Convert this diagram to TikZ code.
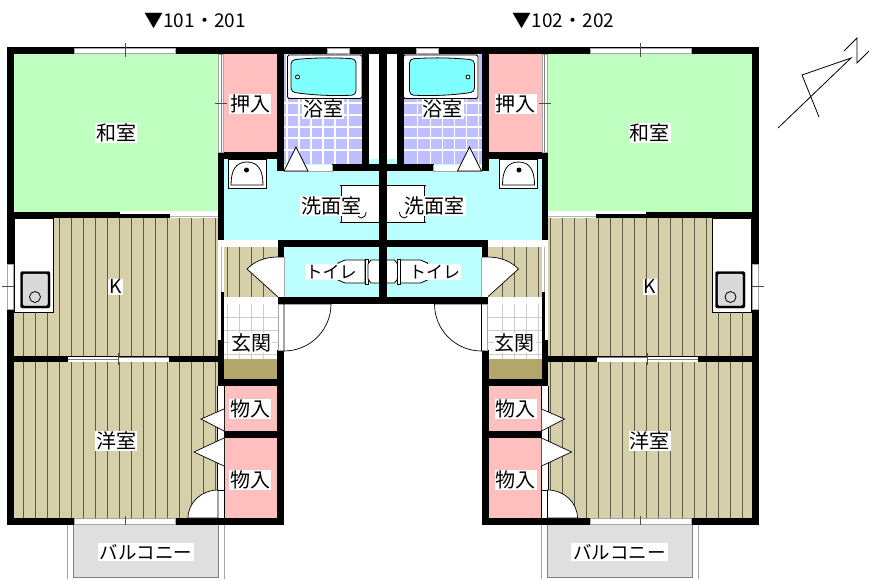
\documentclass[tikz,border=0pt]{standalone}
\usepackage{fontspec}
\setmainfont{Noto Sans CJK JP}
\usetikzlibrary{positioning}
\definecolor{tatami}{HTML}{BFFFBF}
\definecolor{closet}{HTML}{FFBFBF}
\definecolor{wet}{HTML}{BBFFFF}
\definecolor{floorb}{HTML}{D5D0AA}
\definecolor{stripe}{HTML}{5E5B46}
\definecolor{doma}{HTML}{B3A66B}
\definecolor{tile}{HTML}{BFBFFF}
\definecolor{tub}{HTML}{80FFFF}
\tikzset {
    x=1pt, y=-1pt,
    wall/.style={fill=black},
    thin line/.style={black, line width=0.8pt},
    door/.style={fill=white, draw=black, line width=0.7pt},
    opening/.style={fill=white, draw=gray!70, line width=0.7pt},
    tick/.style={black!70, line width=0.8pt},
    room/.style={fill=white, inner sep=1pt, yshift=-1pt, font=\fontsize{20}{20}\selectfont},
    every node/.style={text=black}
}
% one dwelling, the second one is the same thing mirrored
\newcommand{\halfplan}{
    % floors
    \fill[tatami] (14,54) rectangle (218,212);
    \fill[closet] (224,54) rectangle (277,152);
    \fill[floorb] (14,218) rectangle (218,356);
    \fill[floorb] (14,362) rectangle (218,518);
    \fill[floorb] (224,247) rectangle (278,297);
    \fill[white] (224,297) rectangle (278,359);
    \fill[doma] (224,359) rectangle (278,379);
    \fill[closet] (224,386) rectangle (277,431);
    \fill[closet] (224,438) rectangle (277,518);
    \fill[wet] (224,159) rectangle (379,240);
    \fill[wet] (284,247) rectangle (379,297);
    \fill[tile] (284,54) rectangle (362,164);
    % stripes of the wood floor
    \foreach \x in {23,35,...,215} {
        \draw[stripe, line width=1pt] (\x,218) -- (\x,356);
        \draw[stripe, line width=1pt] (\x,362) -- (\x,518);
    }
    \foreach \x in {227,239,251,263} {
        \draw[stripe, line width=1pt] (\x,247) -- (\x,297);
        \draw[gray!40] (\x,304) -- (\x,359);
    }
    \foreach \y in {317,330,342,354}
        \draw[gray!40] (224,\y) -- (278,\y);
    \fill[white] (224,240) rectangle (278,247);
    \fill[white] (224,297) rectangle (278,304);
    % bath tiles
    \foreach \x in {287,299,311,323,335,348}
        \draw[white, line width=1.4pt] (\x,54) -- (\x,164);
    \foreach \y in {103,115,127,138,150}
        \draw[white, line width=1.4pt] (284,\y) -- (362,\y);
    % counter and sink
    \fill[white, draw=black, line width=0.8pt] (14,218) rectangle (53.5,312.5);
    \draw[fill=black, rounded corners=2pt] (20.5,271.5) rectangle (50,308);
    \draw[fill=gray!30, draw=white, rounded corners=2pt] (23,274) rectangle (47.5,305.5);
    \draw[thin line, fill=gray!30] (35,297) circle (5.5);
    % bath tub
    \draw[thin line, fill=white, rounded corners=1.5pt] (287.5,55) rectangle (362,98.5);
    \draw[thin line, fill=tub, rounded corners=4pt] (291,60) .. controls (315,57.5) and (335,57.5) .. (356,59)
        -- (356,95) .. controls (335,96) and (315,95.5) .. (291,92) -- cycle;
    \draw[thin line, fill=white] (297.5,77) circle (2);
    % wash basin
    \draw[thin line, fill=white] (228,159) rectangle (266,188);
    \draw[thin line, fill=white] (231,185) .. controls (231,170) and (236,162) .. (247,162)
        .. controls (258,162) and (263,170) .. (263,185) -- cycle;
    \fill (246.5,170) circle (2.5);
    % washing machine place
    \draw[thin line, fill=white] (379,185) -- (341,185) -- (341,222) -- (379,222);
    \draw[thin line] (339.5,185) -- (342.5,185) (339.5,222) -- (342.5,222);
    \draw[thin line] (366,212) arc (0:150:4.5 and 6);
    % toilet
    \draw[thin line, fill=white] (365,260) -- (345,260) -- (338,263) -- (338,280) -- (345,283) -- (365,283) -- cycle;
    \draw[thin line, fill=white] (365,259) rectangle (368,284);
    \draw[thin line, fill=white] (379,260) -- (371,260) -- (368,264) -- (368,279) -- (371,283) -- (379,283);
    % walls
    \fill[wall] (7,47) rectangle (383,54);
    \fill[wall] (7,47) rectangle (14,525);
    \fill[wall] (7,518) rectangle (284,525);
    \fill[wall] (14,212) rectangle (120,218);
    \fill[wall] (120,214) rectangle (170,218);
    \fill[wall] (14,356) rectangle (218,362);
    \fill[wall] (218,54) rectangle (224,240);
    \fill[wall] (218,152) rectangle (284,159);
    \fill[wall] (277,54) rectangle (284,171);
    \fill[wall] (332,164) rectangle (383,171);
    \fill[wall] (362,54) rectangle (369,164);
    \fill[wall] (379,47) rectangle (383,304);
    \fill[wall] (278,240) rectangle (383,247);
    \fill[wall] (278,297) rectangle (383,304);
    \fill[wall] (278,247) rectangle (284,258);
    \fill[wall] (221,292) rectangle (224,340);
    \fill[wall] (218,340) rectangle (224,518);
    \fill[wall] (277,350) rectangle (284,525);
    \fill[wall] (218,379) rectangle (284,386);
    \fill[wall] (218,431) rectangle (284,438);
    % openings
    \draw[opening] (74,48) rectangle (175,53);
    \draw[tick] (125,43) -- (125,57);
    \draw[opening] (327,48) rectangle (349,53);
    \draw[opening] (218.5,54) rectangle (223.5,152);
    \draw[gray] (221,54) -- (221,152);
    \draw[tick] (215,103) -- (227,103);
    \draw[opening] (7.5,264) rectangle (13,309);
    \draw[tick] (2,286.5) -- (14,286.5);
    \fill[white] (120,211) rectangle (218,213.5);
    \fill[white] (170,213.5) rectangle (218,218);
    \draw[gray!60] (170,216) -- (218,216);
    \fill[white] (68,356.5) rectangle (169,361.5);
    \draw[gray] (68,359) -- (118,359);
    \draw[gray] (118,357.5) -- (169,357.5);
    \draw[tick] (118.5,353) -- (118.5,365);
    \fill[white] (218.5,240) rectangle (224,292);
    \draw[gray!60] (221,247) -- (221,292);
    \fill[white] (218,292) rectangle (221,340);
    \draw[opening] (278,304) rectangle (284,350);
    \draw[opening] (74,518.5) rectangle (175,524.5);
    \draw[tick] (125,516) -- (125,530);
    % doors
    \fill[white] (284,164.5) rectangle (332,171);
    \draw[gray!70, line width=0.7pt] (284,171) -- (332,171) -- (332,164.5);
    \draw[door] (284,171) -- (296,147) -- (308,171) -- cycle;
    \draw[door, fill=white] (278,297) -- (247,269) .. controls (255,261) and (265,257) .. (278,257);
    \fill[white] (278,257) rectangle (284,297);
    \draw[gray!70] (278,257) -- (284,257) -- (284,297);
    \draw[door] (284,304) -- (331,304) arc (0:90:47) -- cycle;
    \fill[white] (218,386) rectangle (224,518);
    \draw[black, line width=0.7pt] (217.5,386) -- (217.5,518) (224,386) -- (224,518);
    \draw[door] (224,409) -- (201,419) -- (224,431);
    \draw[door] (224,438) -- (194,452) -- (224,466);
    \draw[door] (188,518) arc (180:270:30 and 28) -- (218,518) -- cycle;
    \draw[black, line width=0.7pt] (218,490) -- (224,490);
    % balcony
    \fill[gray!25] (74,525) rectangle (218,577);
    \draw[gray, line width=0.7pt] (73.5,525) -- (73.5,577) -- (218.5,577) -- (218.5,525);
    \draw[gray!70, line width=0.7pt] (67.5,525) -- (67.5,579) (224,525) -- (224,579);
    % room names
    \node[room] (washitsu) at (116,132) {和室};
    \node[room] (oshiire) at (250,103) {押入};
    \node[room] (yokushitsu) at (323,108) {浴室};
    \node[room] (senmen) at (331,205) {洗面室};
    \node[room] (toire) at (331,271) {\fontsize{17}{17}\selectfont トイレ};
    \node[room] (genkan) at (251,342) {玄関};
    \node[room, font=\fontsize{19}{19}\selectfont] (kitchen) at (115.5,286) {K};
    \node[room] (yoshitsu) at (116,440) {洋室};
    \node[room] (mono1) at (250,408) {物入};
    \node[room] (mono2) at (250,479) {物入};
    \node[room, inner xsep=2pt] (balcony) at (146,551) {\fontsize{18.5}{18.5}\selectfont バルコニー};
}

\begin{document}
\begin{tikzpicture}
    \useasboundingbox[fill=white] (0,0) rectangle (869,579);

    \halfplan
    \begin{scope}[xshift=765.5pt, xscale=-1]
        \halfplan
    \end{scope}

    \node[font=\fontsize{19}{19}\selectfont] (unitl) at (195,21) {▼101・201};
    \node[font=\fontsize{19}{19}\selectfont] (unitr) at (563.5,21) {▼102・202};

    % north mark
    \coordinate (tail) at (778,128);
    \coordinate (head) at (851,58);
    \draw[thin line] (tail) -- (head) -- (802,75) -- (819,117);
    \draw[thin line] (844,51) -- (857,38) -- (857,63) -- (869,51);
\end{tikzpicture}
\end{document}
